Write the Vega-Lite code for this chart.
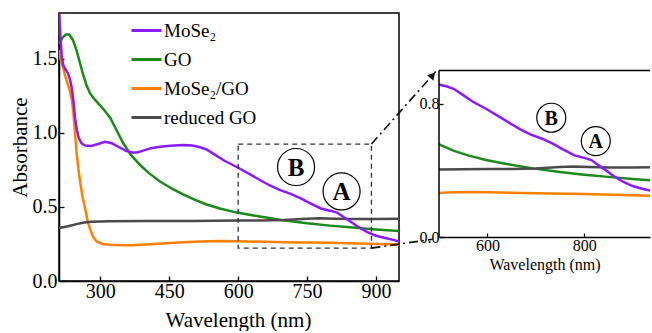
{
  "$schema": "https://vega.github.io/schema/vega-lite/v6.json",
  "padding": {"left": 8, "top": 12, "right": 0, "bottom": 0},
  "bounds": "flush",
  "spacing": 40,
  "config": {
    "view": {"stroke": null},
    "font": "Times New Roman, Liberation Serif, serif",
    "axis": {
      "grid": false,
      "labelFont": "Times New Roman, Liberation Serif, serif",
      "titleFont": "Times New Roman, Liberation Serif, serif",
      "labelColor": "#000",
      "titleColor": "#000",
      "domainColor": "#000",
      "tickColor": "#000",
      "domainWidth": 1.5,
      "tickWidth": 1.3,
      "titleFontWeight": "normal"
    },
    "legend": {
      "labelFont": "Times New Roman, Liberation Serif, serif"
    }
  },
  "datasets": {
    "spectra": [
      {"wl": 210, "A": 1.6, "s": "GO"}, {"wl": 218, "A": 1.645, "s": "GO"}, {"wl": 225, "A": 1.665, "s": "GO"}, {"wl": 232, "A": 1.665, "s": "GO"}, {"wl": 240, "A": 1.63, "s": "GO"}, {"wl": 248, "A": 1.56, "s": "GO"}, {"wl": 255, "A": 1.48, "s": "GO"}, {"wl": 262, "A": 1.4, "s": "GO"}, {"wl": 270, "A": 1.32, "s": "GO"}, {"wl": 278, "A": 1.265, "s": "GO"}, {"wl": 288, "A": 1.225, "s": "GO"}, {"wl": 300, "A": 1.185, "s": "GO"}, {"wl": 312, "A": 1.14, "s": "GO"}, {"wl": 322, "A": 1.1, "s": "GO"}, {"wl": 335, "A": 1.02, "s": "GO"}, {"wl": 350, "A": 0.93, "s": "GO"}, {"wl": 367, "A": 0.85, "s": "GO"}, {"wl": 386, "A": 0.785, "s": "GO"}, {"wl": 405, "A": 0.73, "s": "GO"}, {"wl": 430, "A": 0.672, "s": "GO"}, {"wl": 455, "A": 0.625, "s": "GO"}, {"wl": 480, "A": 0.585, "s": "GO"}, {"wl": 505, "A": 0.55, "s": "GO"}, {"wl": 531, "A": 0.517, "s": "GO"}, {"wl": 560, "A": 0.49, "s": "GO"}, {"wl": 597, "A": 0.462, "s": "GO"}, {"wl": 637, "A": 0.44, "s": "GO"}, {"wl": 694, "A": 0.412, "s": "GO"}, {"wl": 750, "A": 0.39, "s": "GO"}, {"wl": 800, "A": 0.374, "s": "GO"}, {"wl": 850, "A": 0.361, "s": "GO"}, {"wl": 900, "A": 0.348, "s": "GO"}, {"wl": 950, "A": 0.338, "s": "GO"},

      {"wl": 210, "A": 1.56, "s": "MoSe₂/GO"}, {"wl": 214, "A": 1.49, "s": "MoSe₂/GO"}, {"wl": 219, "A": 1.44, "s": "MoSe₂/GO"}, {"wl": 223, "A": 1.39, "s": "MoSe₂/GO"}, {"wl": 227, "A": 1.35, "s": "MoSe₂/GO"}, {"wl": 231, "A": 1.31, "s": "MoSe₂/GO"}, {"wl": 234, "A": 1.28, "s": "MoSe₂/GO"}, {"wl": 238, "A": 1.22, "s": "MoSe₂/GO"}, {"wl": 241, "A": 1.145, "s": "MoSe₂/GO"}, {"wl": 244, "A": 1.03, "s": "MoSe₂/GO"}, {"wl": 248, "A": 0.875, "s": "MoSe₂/GO"}, {"wl": 252, "A": 0.76, "s": "MoSe₂/GO"}, {"wl": 256, "A": 0.672, "s": "MoSe₂/GO"}, {"wl": 261, "A": 0.57, "s": "MoSe₂/GO"}, {"wl": 267, "A": 0.49, "s": "MoSe₂/GO"}, {"wl": 272, "A": 0.41, "s": "MoSe₂/GO"}, {"wl": 277, "A": 0.357, "s": "MoSe₂/GO"}, {"wl": 284, "A": 0.3, "s": "MoSe₂/GO"}, {"wl": 292, "A": 0.267, "s": "MoSe₂/GO"}, {"wl": 305, "A": 0.25, "s": "MoSe₂/GO"}, {"wl": 321, "A": 0.245, "s": "MoSe₂/GO"}, {"wl": 350, "A": 0.242, "s": "MoSe₂/GO"}, {"wl": 370, "A": 0.242, "s": "MoSe₂/GO"}, {"wl": 410, "A": 0.248, "s": "MoSe₂/GO"}, {"wl": 444, "A": 0.255, "s": "MoSe₂/GO"}, {"wl": 480, "A": 0.262, "s": "MoSe₂/GO"}, {"wl": 517, "A": 0.267, "s": "MoSe₂/GO"}, {"wl": 560, "A": 0.27, "s": "MoSe₂/GO"}, {"wl": 600, "A": 0.268, "s": "MoSe₂/GO"}, {"wl": 700, "A": 0.262, "s": "MoSe₂/GO"}, {"wl": 800, "A": 0.258, "s": "MoSe₂/GO"}, {"wl": 880, "A": 0.252, "s": "MoSe₂/GO"}, {"wl": 950, "A": 0.247, "s": "MoSe₂/GO"},

      {"wl": 210, "A": 0.357, "s": "reduced GO"}, {"wl": 230, "A": 0.37, "s": "reduced GO"}, {"wl": 248, "A": 0.384, "s": "reduced GO"}, {"wl": 265, "A": 0.395, "s": "reduced GO"}, {"wl": 280, "A": 0.4, "s": "reduced GO"}, {"wl": 320, "A": 0.403, "s": "reduced GO"}, {"wl": 400, "A": 0.405, "s": "reduced GO"}, {"wl": 500, "A": 0.406, "s": "reduced GO"}, {"wl": 600, "A": 0.408, "s": "reduced GO"}, {"wl": 650, "A": 0.408, "s": "reduced GO"}, {"wl": 700, "A": 0.412, "s": "reduced GO"}, {"wl": 750, "A": 0.42, "s": "reduced GO"}, {"wl": 777, "A": 0.424, "s": "reduced GO"}, {"wl": 810, "A": 0.421, "s": "reduced GO"}, {"wl": 850, "A": 0.418, "s": "reduced GO"}, {"wl": 900, "A": 0.418, "s": "reduced GO"}, {"wl": 950, "A": 0.42, "s": "reduced GO"},

      {"wl": 210, "A": 1.83, "s": "MoSe₂"}, {"wl": 213, "A": 1.66, "s": "MoSe₂"}, {"wl": 216, "A": 1.52, "s": "MoSe₂"}, {"wl": 219, "A": 1.46, "s": "MoSe₂"}, {"wl": 224, "A": 1.43, "s": "MoSe₂"}, {"wl": 230, "A": 1.4, "s": "MoSe₂"}, {"wl": 234, "A": 1.36, "s": "MoSe₂"}, {"wl": 238, "A": 1.3, "s": "MoSe₂"}, {"wl": 242, "A": 1.2, "s": "MoSe₂"}, {"wl": 245, "A": 1.1, "s": "MoSe₂"}, {"wl": 249, "A": 1.02, "s": "MoSe₂"}, {"wl": 253, "A": 0.965, "s": "MoSe₂"}, {"wl": 259, "A": 0.93, "s": "MoSe₂"}, {"wl": 267, "A": 0.915, "s": "MoSe₂"}, {"wl": 280, "A": 0.912, "s": "MoSe₂"}, {"wl": 295, "A": 0.925, "s": "MoSe₂"}, {"wl": 310, "A": 0.94, "s": "MoSe₂"}, {"wl": 325, "A": 0.93, "s": "MoSe₂"}, {"wl": 340, "A": 0.905, "s": "MoSe₂"}, {"wl": 357, "A": 0.877, "s": "MoSe₂"}, {"wl": 370, "A": 0.868, "s": "MoSe₂"}, {"wl": 380, "A": 0.868, "s": "MoSe₂"}, {"wl": 395, "A": 0.882, "s": "MoSe₂"}, {"wl": 410, "A": 0.897, "s": "MoSe₂"}, {"wl": 430, "A": 0.907, "s": "MoSe₂"}, {"wl": 452, "A": 0.913, "s": "MoSe₂"}, {"wl": 480, "A": 0.918, "s": "MoSe₂"}, {"wl": 500, "A": 0.915, "s": "MoSe₂"}, {"wl": 515, "A": 0.905, "s": "MoSe₂"}, {"wl": 530, "A": 0.89, "s": "MoSe₂"}, {"wl": 550, "A": 0.852, "s": "MoSe₂"}, {"wl": 570, "A": 0.812, "s": "MoSe₂"}, {"wl": 597, "A": 0.77, "s": "MoSe₂"}, {"wl": 626, "A": 0.72, "s": "MoSe₂"}, {"wl": 650, "A": 0.677, "s": "MoSe₂"}, {"wl": 669, "A": 0.645, "s": "MoSe₂"}, {"wl": 690, "A": 0.615, "s": "MoSe₂"}, {"wl": 713, "A": 0.59, "s": "MoSe₂"}, {"wl": 735, "A": 0.56, "s": "MoSe₂"}, {"wl": 756, "A": 0.526, "s": "MoSe₂"}, {"wl": 780, "A": 0.49, "s": "MoSe₂"}, {"wl": 800, "A": 0.475, "s": "MoSe₂"}, {"wl": 815, "A": 0.462, "s": "MoSe₂"}, {"wl": 830, "A": 0.43, "s": "MoSe₂"}, {"wl": 845, "A": 0.4, "s": "MoSe₂"}, {"wl": 860, "A": 0.368, "s": "MoSe₂"}, {"wl": 880, "A": 0.332, "s": "MoSe₂"}, {"wl": 900, "A": 0.306, "s": "MoSe₂"}, {"wl": 920, "A": 0.29, "s": "MoSe₂"}, {"wl": 940, "A": 0.276, "s": "MoSe₂"}, {"wl": 950, "A": 0.266, "s": "MoSe₂"}
    ],
    "zoomBox": [{"x1": 600, "x2": 890, "y1": 0.222, "y2": 0.925}],
    "connectors": [
      {"x1": 890, "y1": 0.925, "x2": 1030, "y2": 1.415},
      {"x1": 890, "y1": 0.222, "x2": 1023, "y2": 0.282}
    ],
    "arrowTip": [{"wl": 1023.3, "A": 1.39}],
    "featuresMain": [{"wl": 726, "A": 0.77, "label": "B"}, {"wl": 825, "A": 0.605, "label": "A"}],
    "featuresInset": [{"wl": 732, "A": 0.716, "label": "B"}, {"wl": 824, "A": 0.576, "label": "A"}],
    "insetFrame": [{"x1": 500, "x2": 500, "y1": 0, "y2": 1}, {"x1": 500, "x2": 936, "y1": 1, "y2": 1}]
  },
  "hconcat": [
    {
      "width": 340,
      "height": 268,
      "view": {"stroke": "#000", "strokeWidth": 1.5},
      "layer": [
        {
          "data": {"name": "spectra"},
          "mark": {"type": "line", "strokeWidth": 2.5, "clip": true},
          "encoding": {
            "x": {"field": "wl", "type": "quantitative", "scale": {"domain": [210, 950], "nice": false, "zero": false},
              "axis": {"values": [300, 450, 600, 750, 900], "tickSize": -5, "labelPadding": 5, "labelFontSize": 20, "title": "Wavelength (nm)", "titleFontSize": 21, "titlePadding": 8, "titleX": 179}},
            "y": {"field": "A", "type": "quantitative", "scale": {"domain": [0, 1.81], "nice": false},
              "axis": {"values": [0, 0.5, 1, 1.5], "format": ".1f", "tickSize": -5, "labelPadding": 7, "labelFontSize": 20, "title": "Absorbance", "titleFontSize": 21, "titlePadding": 2}},
            "color": {"field": "s", "type": "nominal",
              "scale": {"domain": ["MoSe₂", "GO", "MoSe₂/GO", "reduced GO"], "range": ["#8c1aff", "#1a8a1a", "#ff8000", "#4a4a4a"]},
              "legend": {"orient": "none", "legendX": 71, "legendY": 1, "title": null, "symbolType": "stroke", "symbolSize": 900, "symbolStrokeWidth": 3, "labelFontSize": 19, "labelColor": "#000", "rowPadding": 2, "labelOffset": 1, "padding": 0}}
          }
        },
        {
          "data": {"name": "zoomBox"},
          "mark": {"type": "rect", "filled": false, "stroke": "#333", "strokeWidth": 1.3, "strokeDash": [5, 4]},
          "encoding": {
            "x": {"field": "x1", "type": "quantitative"}, "x2": {"field": "x2"},
            "y": {"field": "y1", "type": "quantitative"}, "y2": {"field": "y2"}
          }
        },
        {
          "data": {"name": "connectors"},
          "mark": {"type": "rule", "stroke": "#111", "strokeWidth": 1.6, "strokeDash": [9, 4, 2, 4]},
          "encoding": {
            "x": {"field": "x1", "type": "quantitative"}, "x2": {"field": "x2"},
            "y": {"field": "y1", "type": "quantitative"}, "y2": {"field": "y2"}
          }
        },
        {
          "data": {"name": "arrowTip"},
          "mark": {"type": "point", "shape": "triangle-up", "angle": 41.5, "filled": true, "color": "#111", "size": 70, "opacity": 1},
          "encoding": {
            "x": {"field": "wl", "type": "quantitative"},
            "y": {"field": "A", "type": "quantitative"}
          }
        },
        {
          "data": {"name": "featuresMain"},
          "mark": {"type": "point", "shape": "circle", "filled": false, "stroke": "#000", "strokeWidth": 1.2, "size": 1369, "opacity": 1},
          "encoding": {
            "x": {"field": "wl", "type": "quantitative"},
            "y": {"field": "A", "type": "quantitative"}
          }
        },
        {
          "data": {"name": "featuresMain"},
          "mark": {"type": "text", "fontSize": 25, "fontWeight": "bold", "baseline": "middle", "dy": 1, "color": "#000"},
          "encoding": {
            "x": {"field": "wl", "type": "quantitative"},
            "y": {"field": "A", "type": "quantitative"},
            "text": {"field": "label"}
          }
        }
      ]
    },
    {
      "width": 211,
      "height": 224,
      "layer": [
        {
          "data": {"name": "spectra"},
          "mark": {"type": "line", "strokeWidth": 2.5, "clip": true},
          "encoding": {
            "x": {"field": "wl", "type": "quantitative", "scale": {"domain": [500, 936], "nice": false, "zero": false},
              "axis": {"values": [600, 800], "tickSize": -4, "labelPadding": 4, "labelFontSize": 16, "title": "Wavelength (nm)", "titleFontSize": 16, "titlePadding": 3}},
            "y": {"field": "A", "type": "quantitative", "scale": {"domain": [0, 1.345], "nice": false},
              "axis": {"values": [0, 0.8], "format": ".1f", "domain": false, "tickSize": -4, "labelPadding": 4, "labelFontSize": 16, "title": null}},
            "color": {"field": "s", "type": "nominal",
              "scale": {"domain": ["MoSe₂", "GO", "MoSe₂/GO", "reduced GO"], "range": ["#8c1aff", "#1a8a1a", "#ff8000", "#4a4a4a"]},
              "legend": null}
          }
        },
        {
          "data": {"name": "insetFrame"},
          "mark": {"type": "rule", "stroke": "#000", "strokeWidth": 1.5},
          "encoding": {
            "x": {"field": "x1", "type": "quantitative"}, "x2": {"field": "x2"},
            "y": {"field": "y1", "type": "quantitative"}, "y2": {"field": "y2"}
          }
        },
        {
          "data": {"name": "featuresInset"},
          "mark": {"type": "point", "shape": "circle", "filled": false, "stroke": "#000", "strokeWidth": 1.2, "size": 841, "opacity": 1},
          "encoding": {
            "x": {"field": "wl", "type": "quantitative"},
            "y": {"field": "A", "type": "quantitative"}
          }
        },
        {
          "data": {"name": "featuresInset"},
          "mark": {"type": "text", "fontSize": 20, "fontWeight": "bold", "baseline": "middle", "dy": 1, "color": "#000"},
          "encoding": {
            "x": {"field": "wl", "type": "quantitative"},
            "y": {"field": "A", "type": "quantitative"},
            "text": {"field": "label"}
          }
        }
      ]
    }
  ],
  "resolve": {"scale": {"color": "independent"}}
}
